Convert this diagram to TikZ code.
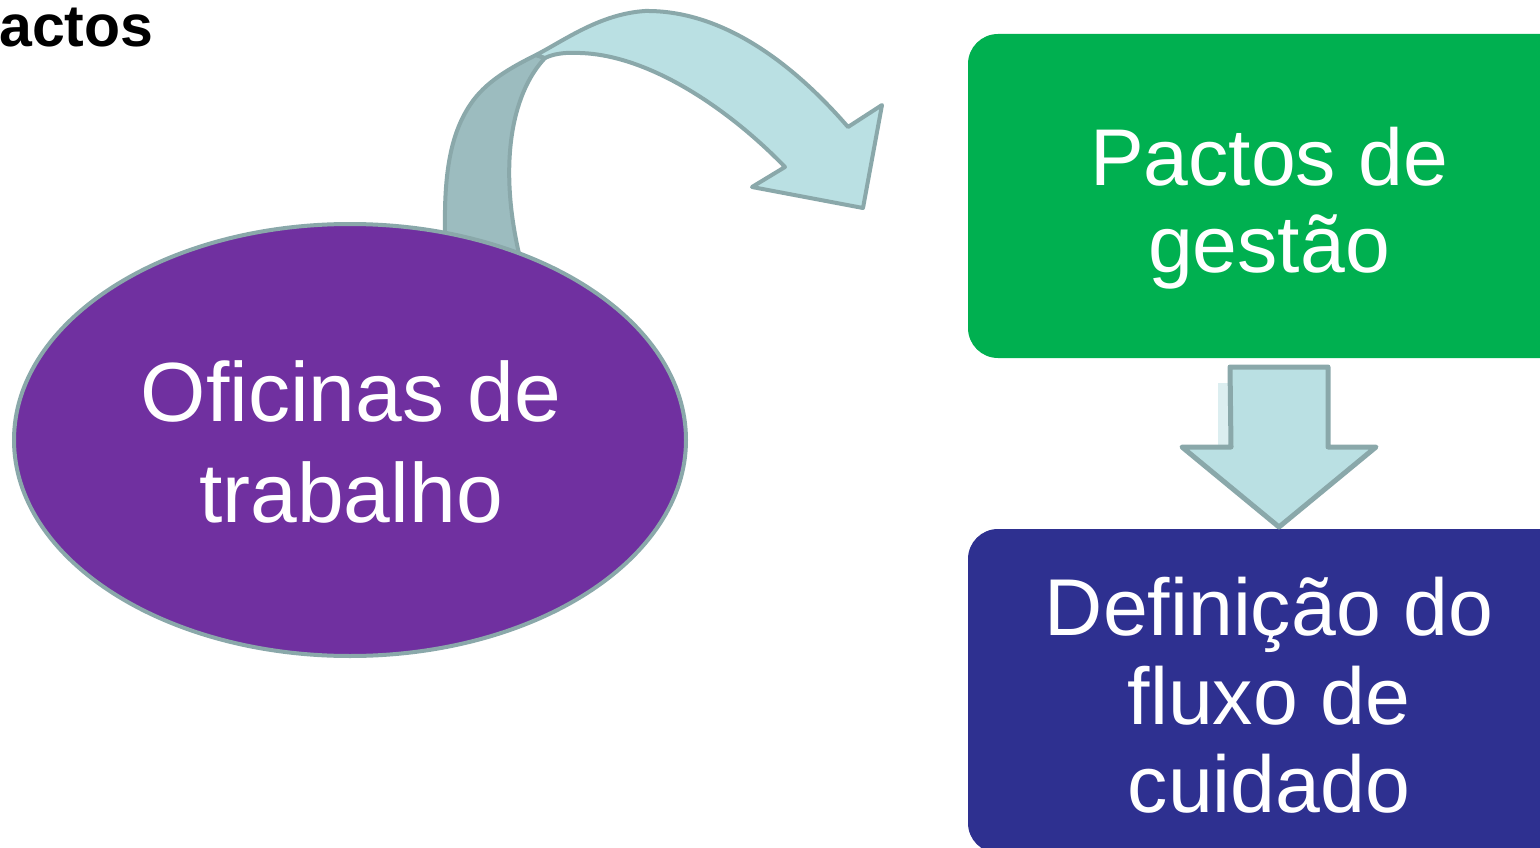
\documentclass[tikz,border=0pt]{standalone}
\usepackage{fontspec}
\setmainfont{Liberation Sans}
\usepackage{tikz}
\usetikzlibrary{calc,positioning,shapes.geometric}
\definecolor{oficinas_purple}{HTML}{7030A0}
\definecolor{pactos_green}{HTML}{00B050}
\definecolor{fluxo_navy}{HTML}{2E3090}
\definecolor{edge_gray}{HTML}{8AA8AA}
\definecolor{arrow_fill}{HTML}{BAE0E3}
\definecolor{arrow_back}{HTML}{9CBCBF}
\definecolor{arrow_faint}{HTML}{DCEEF0}
\tikzset{
ellipse_item/.style={ellipse, draw=edge_gray, line width=4pt, fill=oficinas_purple, minimum width=672pt, minimum height=432pt, inner sep=0pt, outer sep=0pt},
box_item/.style={rectangle, rounded corners=30pt, minimum width=602pt, minimum height=324pt, inner sep=0pt, outer sep=0pt},
box_text/.style={text=white, align=center, inner sep=0pt},
block_arrow/.style={draw=edge_gray, line width=5pt, line join=round, fill=arrow_fill},
band/.style={draw=edge_gray, line width=4pt, line join=round}
}

\begin{document}
\begin{tikzpicture}[x=1pt, y=-1pt]
    \useasboundingbox (0,0) rectangle (1540,848);
    \node[anchor=base west, inner sep=0pt, font=\bfseries\fontsize{59}{70}\selectfont] (title) at (-1,47) {actos};
    % curved arrow, back part first
    \draw[band, fill=arrow_back] (445,262) -- (445,232) .. controls (444,175) and (450,135) .. (470,105)
        .. controls (485,82) and (510,68) .. (536,55) -- (545,58)
        .. controls (510,95) and (498,170) .. (521,262) -- cycle;
    \node[ellipse_item] (oficinas) at (350,440) {};
    \node[box_text, font=\fontsize{84}{101}\selectfont] (oficinas_text) at ([xshift=1pt, yshift=-2.2pt]oficinas.center) {Oficinas de\\trabalho};
    \draw[band, fill=arrow_fill] (536,55) .. controls (565,40) and (600,14) .. (645,11)
        .. controls (720,10) and (790,60) .. (848,127) -- (882,105) -- (863,208) -- (752,187) -- (785,167)
        .. controls (730,110) and (650,55) .. (580,53) .. controls (565,52) and (553,54) .. (545,58) -- cycle;
    % boxes on the right
    \node[box_item, fill=pactos_green] (pactos) at (1269,196) {};
    \node[box_text, font=\fontsize{80.5}{87}\selectfont] (pactos_text) at ([yshift=-11.7pt]pactos.center) {Pactos de\\gestão};
    \node[box_item, fill=fluxo_navy] (definicao) [below=171pt of pactos] {};
    \node[box_text, font=\fontsize{80.6}{88.5}\selectfont] (definicao_text) at ([yshift=-4.6pt]definicao.center) {Definição do\\fluxo de\\cuidado};
    % down arrow between the boxes
    \coordinate (arrow_top) at ([xshift=10pt, yshift=-9pt]pactos.south);
    \coordinate (arrow_tip) at ([xshift=10pt, yshift=2pt]definicao.north);
    \fill[arrow_faint] ($(arrow_top)+(-61,16)$) rectangle ($(arrow_top)+(-47,80)$);
    \draw[block_arrow] (arrow_top) ++(-49,0) -- ++(98,0) -- ++(0,80) -- ++(48,0) -- (arrow_tip) -- ++(-97,-80) -- ++(49,0) -- cycle;
\end{tikzpicture}
\end{document}
